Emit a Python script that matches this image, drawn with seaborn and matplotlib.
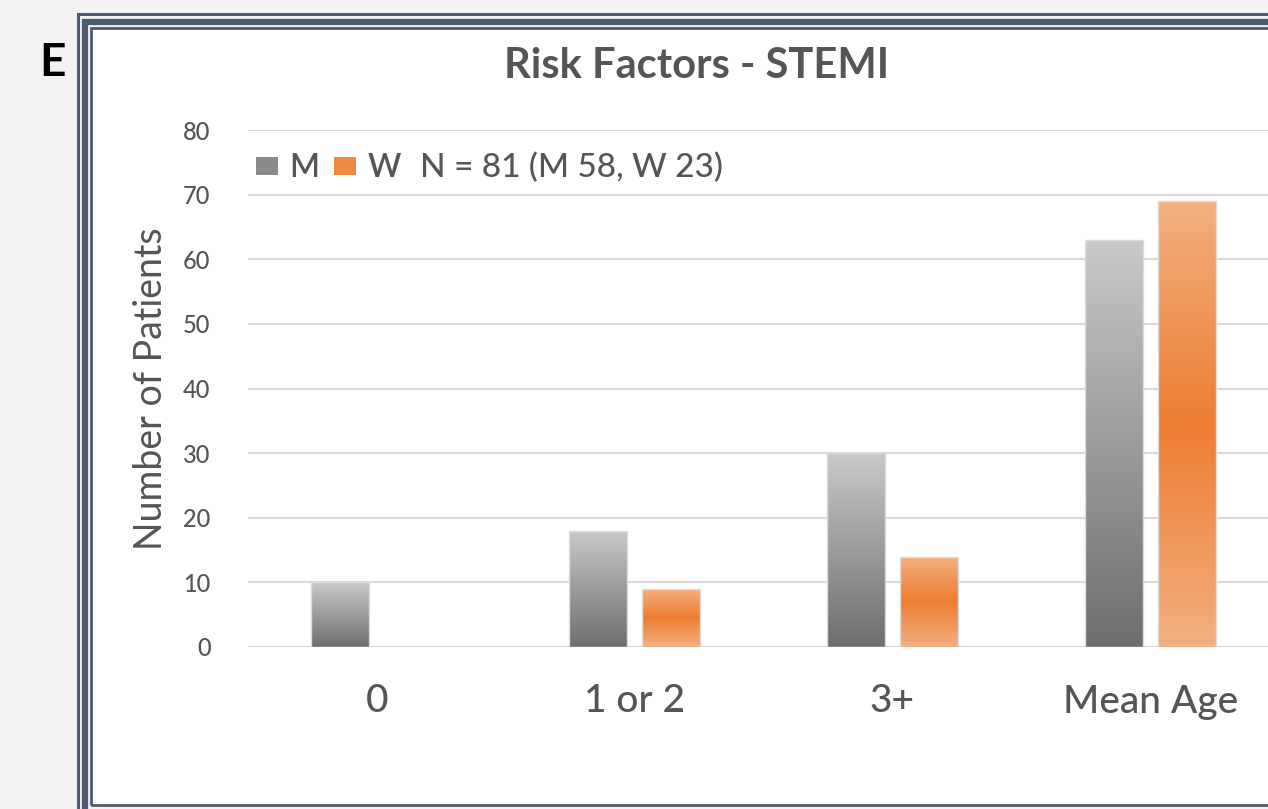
import matplotlib
matplotlib.use('Agg')
import matplotlib.pyplot as plt
import matplotlib.patches as mpatches
from matplotlib.colors import LinearSegmentedColormap
import numpy as np
import pandas as pd
import seaborn as sns

# Chart data
categories = ['0', '1 or 2', '3+', 'Mean Age']
men = [10, 18, 30, 63]
women = [0, 9, 14, 69]
y_ticks = [0, 10, 20, 30, 40, 50, 60, 70, 80]

df = pd.DataFrame({
    'category': categories * 2,
    'sex': ['M'] * len(categories) + ['W'] * len(categories),
    'value': men + women,
})

W, H = 1268, 809
TEXT = '#555555'
FRAME = '#4e5a6e'

sns.set_style('white')
plt.rcParams['font.family'] = ['Lato', 'DejaVu Sans']
plt.rcParams['font.weight'] = 'medium'


def px(x, y):
    """Pixel (from top-left) to figure fraction."""
    return x / W, 1 - y / H


fig = plt.figure(figsize=(W / 100, H / 100), dpi=100)
fig.patch.set_facecolor('#f2f2f2')


# triple frame around the chart panel
def frame(x0, y0, x1, y1, lw, color, fc='none', z=0):
    fx0, fy1 = px(x0, y0)
    fx1, fy0 = px(x1, y1)
    fig.patches.append(mpatches.Rectangle((fx0, fy0), fx1 - fx0, fy1 - fy0,
                                          transform=fig.transFigure, lw=lw,
                                          edgecolor=color, facecolor=fc, zorder=z))


frame(91, 28, 1300, 805, 0, 'none', fc='white', z=-2)
frame(77.5, 14.5, 1300, 830, 2.2, FRAME, z=-1)
frame(84.5, 21.5, 1300, 830, 4.5, FRAME, z=-1)
frame(90.5, 28, 1300, 805, 2.0, FRAME, z=-1)

fig.text(*px(53, 63), 'E', fontsize=33, fontweight='bold', color='black',
         ha='center', va='center')

l, t = px(248, 130)
r, b = px(1279, 647)
ax = fig.add_axes([l, b, r - l, t - b])
ax.set_facecolor('none')
ax.set_zorder(2)

sns.barplot(data=df, x='category', y='value', hue='sex', order=categories,
            palette={'M': '#9a9a9a', 'W': '#f0964f'}, width=0.566, gap=0.205,
            edgecolor='#dcdcdc', linewidth=1.0, ax=ax, legend=False, zorder=3)

grey_cmap = LinearSegmentedColormap.from_list('g', ['#6e6e6e', '#c9c9c9'])
orange_cmap = LinearSegmentedColormap.from_list('o', ['#f3b081', '#ed7d31', '#f3b081'])

for bar in ax.patches:
    h = bar.get_height()
    if h <= 0:
        bar.set_visible(False)
        continue
    x0 = bar.get_x()
    centre = x0 + bar.get_width() / 2
    cmap = grey_cmap if centre < round(centre) else orange_cmap
    grad = np.linspace(0, 1, 256).reshape(-1, 1)
    im = ax.imshow(grad, cmap=cmap, origin='lower', aspect='auto',
                   extent=[x0, x0 + bar.get_width(), 0, h], zorder=2.5)
    im.set_clip_path(bar)
    bar.set_facecolor('none')

ax.set_xlim(-0.5, 3.5)
ax.set_ylim(0, 80)
ax.set_yticks(y_ticks)
ax.grid(axis='y', color='#d9d9d9', linewidth=1.5, zorder=0)
ax.set_axisbelow(True)
sns.despine(ax=ax, left=True, bottom=True, top=True, right=True)
ax.axhline(0, color='#d9d9d9', linewidth=1.5, zorder=1)

ax.tick_params(axis='y', length=0, pad=27, labelsize=17, labelcolor=TEXT)
ax.tick_params(axis='x', length=0, pad=27, labelsize=28, labelcolor=TEXT)
ax.set_xlabel('')
ax.set_ylabel('Number of Patients', fontsize=27, color=TEXT, labelpad=10)

fig.text(*px(697, 66), 'Risk Factors - STEMI', fontsize=30, fontweight='bold',
         color=TEXT, ha='center', va='center')

handles = [mpatches.Patch(facecolor='#8a8a8a', edgecolor='none', label='M'),
           mpatches.Patch(facecolor='#ef8a44', edgecolor='none', label='W')]
ax.legend(handles=handles, loc='upper left', bbox_to_anchor=px(256, 153),
          bbox_transform=fig.transFigure, ncol=2, frameon=False,
          prop={'size': 23, 'weight': 'semibold'},
          handlelength=0.7, handleheight=0.5, handletextpad=0.35, columnspacing=0.45,
          labelcolor=TEXT, borderaxespad=0, borderpad=0)
fig.text(*px(420, 168), 'N = 81 (M 58, W 23)', fontsize=24, color=TEXT,
         ha='left', va='center')

fig.savefig('out.png', dpi=100, facecolor=fig.get_facecolor())
